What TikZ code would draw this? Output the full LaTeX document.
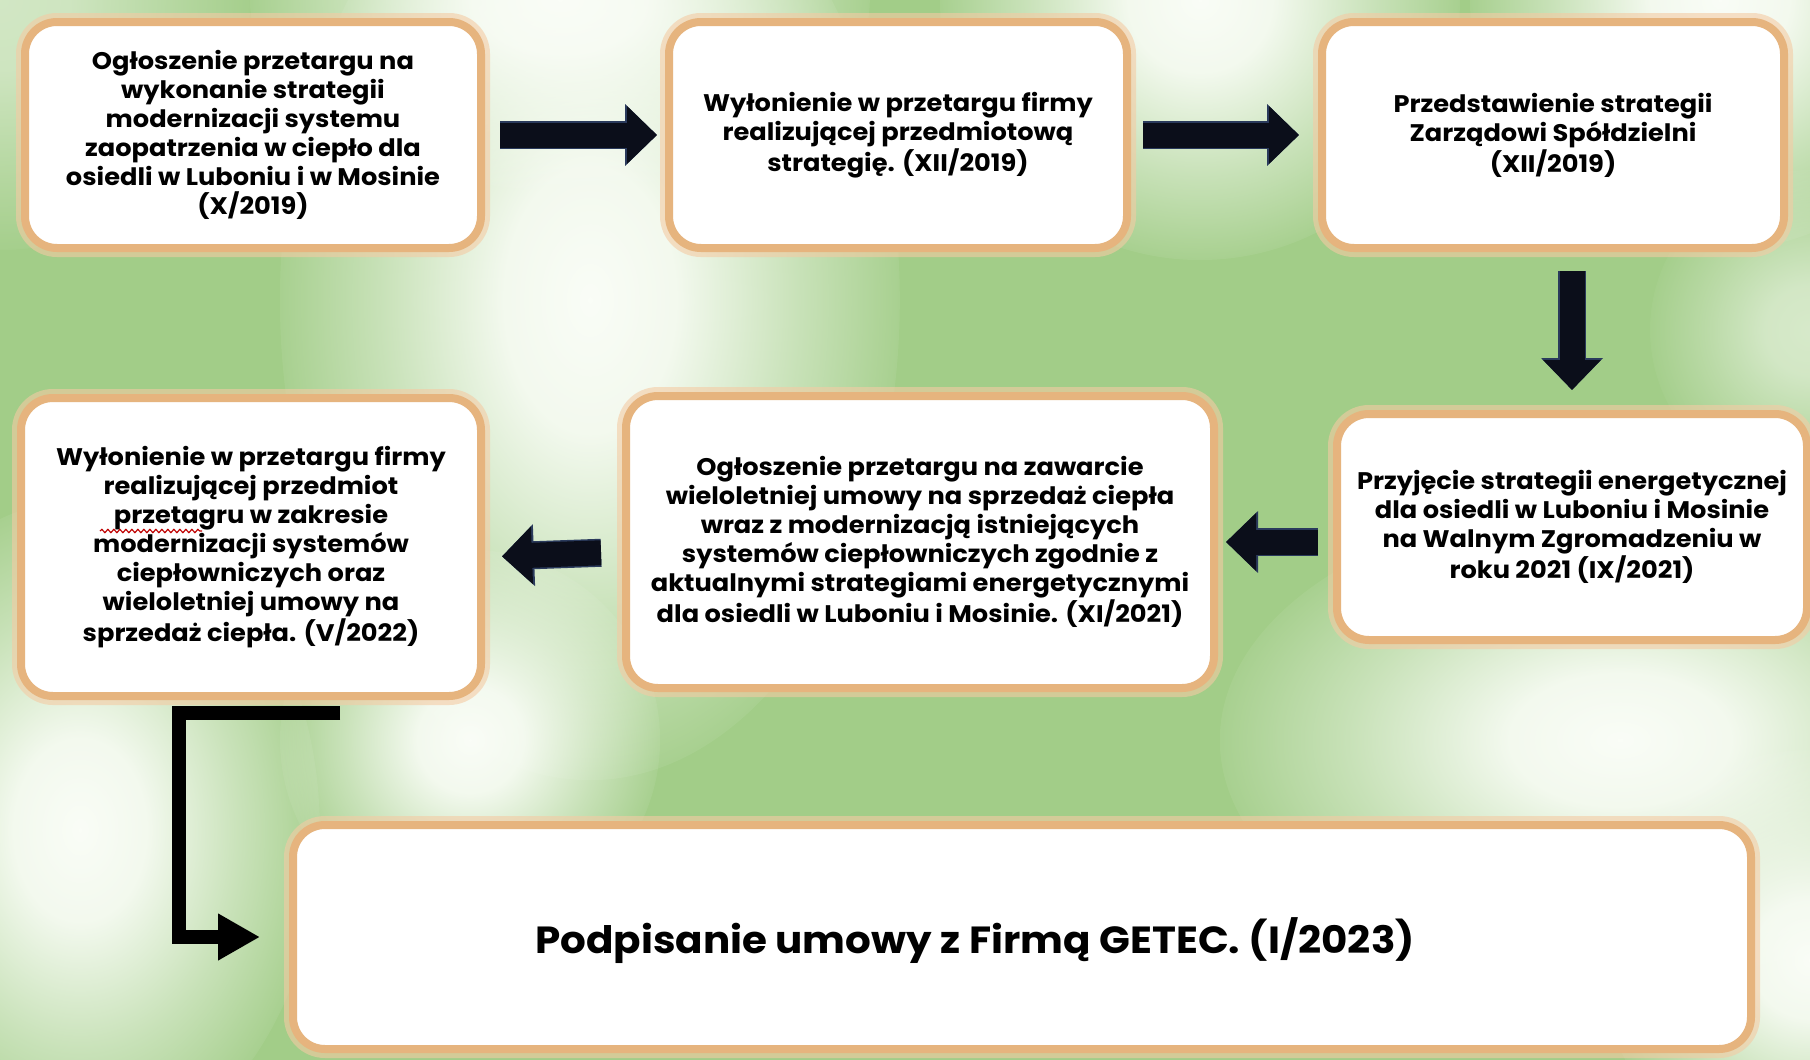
\documentclass[tikz,border=0pt]{standalone}
\usepackage{fontspec}
\setmainfont{Poppins}[FakeStretch=1.07]
\usetikzlibrary{arrows.meta,fadings,decorations.pathmorphing,calc}
\definecolor{bggreen}{HTML}{A2CD88}
\definecolor{bgpale}{HTML}{FAFDF7}
\definecolor{boxborder}{HTML}{E6B47E}
\definecolor{boxglow}{HTML}{F4CBA4}
\definecolor{arrowdark}{HTML}{0B0E1A}
\definecolor{arrowedge}{HTML}{2A3A5C}
\pgfdeclareradialshading{glowshade}{\pgfpoint{0bp}{0bp}}{%
  color(0bp)=(pgftransparent!0); color(7bp)=(pgftransparent!8);
  color(16.5bp)=(pgftransparent!55); color(26.5bp)=(pgftransparent!100);
  color(50bp)=(pgftransparent!100)}
\pgfdeclarefading{softglow}{\pgfuseshading{glowshade}}
\begin{document}
\begin{tikzpicture}[x=0.5pt,y=-0.5pt,
  boxst/.style={draw=boxborder, line width=4pt, fill=white, rounded corners=16pt,
    align=center, inner sep=0pt, font=\bfseries\fontsize{12}{14.5}\selectfont,
    preaction={draw=boxglow, line width=9pt, opacity=0.6}},
  blockarrow/.style={draw=arrowdark, line width=12.5pt,
    -{Triangle[width=28pt,length=15pt]},
    preaction={draw=arrowedge, line width=14pt, -{Triangle[width=30pt,length=16pt]}}},
  elbowarrow/.style={draw=black, line width=7pt, miter limit=10,
    -{Triangle[width=22pt,length=21pt]}},
  glow/.style={fill=bgpale, path fading=softglow}
]
\useasboundingbox (0,0) rectangle (1810,1060);
% background
\fill[bggreen] (0,0) rectangle (1810,1060);
\begin{scope}
\clip (0,0) rectangle (1810,1060);
\fill[glow] (590,300) ellipse[x radius=155pt, y radius=240pt];
\fill[glow] (560,0) ellipse[x radius=155pt, y radius=95pt];
\fill[glow] (1200,0) circle[radius=130pt];
\fill[glow] (1720,0) circle[radius=125pt];
\fill[glow, opacity=0.55] (0,0) circle[radius=125pt];
\fill[glow] (80,830) ellipse[x radius=120pt, y radius=165pt];
\fill[glow] (470,740) circle[radius=95pt];
\fill[glow] (1620,740) ellipse[x radius=200pt, y radius=120pt];
\fill[glow] (1810,960) circle[radius=105pt];
\fill[glow, opacity=0.6] (1810,330) circle[radius=80pt];
\end{scope}

% boxes
\node[boxst, minimum width=228pt, minimum height=113pt] (b1) at (253,135)
  {Ogłoszenie przetargu na\\ wykonanie strategii\\ modernizacji systemu\\ zaopatrzenia w ciepło dla\\ osiedli w Luboniu i w Mosinie\\ (X/2019)};
\node[boxst, minimum width=229pt, minimum height=113pt] (b2) at (898,135)
  {Wyłonienie w przetargu firmy\\ realizującej przedmiotową\\ strategię. (XII/2019)};
\node[boxst, minimum width=231pt, minimum height=113pt] (b3) at (1553,135)
  {Przedstawienie strategii\\ Zarządowi Spółdzielni\\ (XII/2019)};
\node[boxst, minimum width=235pt, minimum height=113pt] (b4) at (1572,527)
  {Przyjęcie strategii energetycznej\\ dla osiedli w Luboniu i Mosinie\\ na Walnym Zgromadzeniu w\\ roku 2021 (IX/2021)};
\node[boxst, minimum width=294pt, minimum height=146pt] (b5) at (920,542)
  {Ogłoszenie przetargu na zawarcie\\ wieloletniej umowy na sprzedaż ciepła\\ wraz z modernizacją istniejących\\ systemów ciepłowniczych zgodnie z\\ aktualnymi strategiami energetycznymi\\ dla osiedli w Luboniu i Mosinie. (XI/2021)};
\node[boxst, minimum width=230pt, minimum height=149pt] (b6) at (251,547)
  {Wyłonienie w przetargu firmy\\ realizującej przedmiot\\ przetagru w zakresie\\ modernizacji systemów\\ ciepłowniczych oraz\\ wieloletniej umowy na\\ sprzedaż ciepła. (V/2022)};
\node[boxst, minimum width=729pt, minimum height=112pt] (b7) at (1022,937) {};
\node[font=\bfseries\fontsize{18.9}{22}\selectfont] (b7t) at (975,941)
  {Podpisanie umowy z Firmą GETEC. (I/2023)};

% spell-check squiggle
\draw[red!75!black, line width=0.6pt, decorate,
  decoration={snake, amplitude=0.8pt, segment length=3pt}] (100,531) -- (202,531);

% arrows
\draw[blockarrow, shorten <=7.5pt, shorten >=4pt] (b1.east) -- (b2.west);
\draw[blockarrow, shorten <=6pt, shorten >=9.5pt] (b2.east) -- (b3.west);
\draw[blockarrow, shorten <=9.5pt, shorten >=10pt] (b4.north |- b3.south) -- (b4.north);
\draw[blockarrow, shorten <=7.5pt, shorten >=4pt] (b4.west |- b5.east) -- (b5.east);
\draw[blockarrow, shorten <=10.5pt, shorten >=8.5pt] ([yshift=-5pt]b5.west) -- ([yshift=-5pt]b6.east);

\coordinate (e0) at (340,713);
\coordinate (e1) at (179,713);
\draw[elbowarrow, shorten >=14.5pt] (e0) -- (e1) |- (b7);
\end{tikzpicture}
\end{document}
